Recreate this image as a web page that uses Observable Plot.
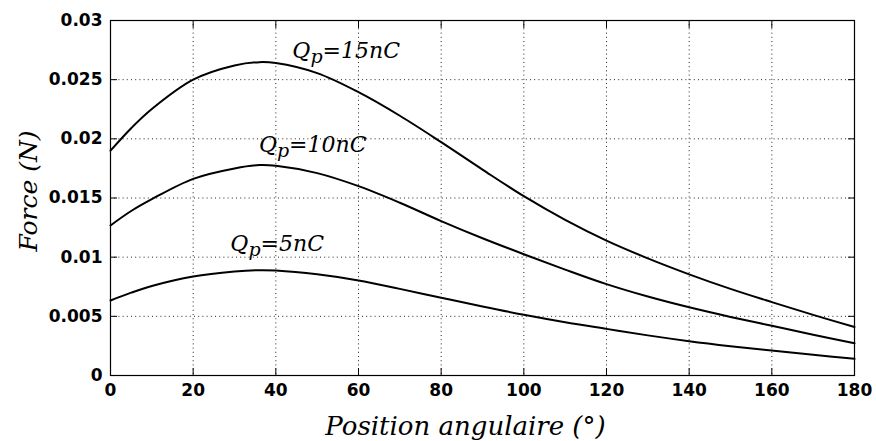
<!DOCTYPE html>
<html><head><meta charset="utf-8">
<script src="https://cdn.jsdelivr.net/npm/d3@7"></script>
<script src="https://cdn.jsdelivr.net/npm/@observablehq/plot@0.6"></script>
<style>body{margin:0;background:#fff}</style>
</head><body><div id="chart"></div>
<script>
// Angular positions (degrees)
const angles   = [0, 5, 10, 20, 30, 36, 40, 50, 60, 70, 80, 90, 100, 110, 120, 130, 140, 150, 160, 170, 180];
// Force (N) for each charge
const force15 = [0.0190, 0.0209, 0.02252, 0.0250, 0.02620, 0.02648, 0.02640, 0.02555, 0.02394, 0.02195, 0.01972, 0.01740, 0.01515, 0.01315, 0.01140, 0.00990, 0.00855, 0.00732, 0.00620, 0.00512, 0.00410];
const force10 = [0.01268, 0.0139, 0.01490, 0.01662, 0.01750, 0.01778, 0.01772, 0.01710, 0.01600, 0.01460, 0.01305, 0.01160, 0.01025, 0.00895, 0.00772, 0.00667, 0.00576, 0.00495, 0.00420, 0.00345, 0.00273];
const force5  = [0.00634, 0.00700, 0.00756, 0.00836, 0.00878, 0.00890, 0.00887, 0.00855, 0.00803, 0.00732, 0.00657, 0.00583, 0.00513, 0.00450, 0.00394, 0.00339, 0.00290, 0.00248, 0.00211, 0.00175, 0.00141];
const seriesNames = ["15nC", "10nC", "5nC"];
// Annotation anchors (data coords)
const labelAngles = [44.0, 35.9, 29.0];
const labelForces = [0.02679, 0.01887, 0.01048];
// Ticks
const xTicks = [0, 20, 40, 60, 80, 100, 120, 140, 160, 180];
const yTicks = [0, 0.005, 0.01, 0.015, 0.02, 0.025, 0.03];
const yTickLabels = ["0", "0.005", "0.01", "0.015", "0.02", "0.025", "0.03"];
const xLabel = "Position angulaire (°)";
const yLabel = "Force (N)";

const allForces = [force15, force10, force5];
const rows = [];
allForces.forEach((arr, s) => arr.forEach((v, i) => rows.push({series: seriesNames[s], angle: angles[i], force: v})));
const labels = seriesNames.map((n, i) => ({name: n, angle: labelAngles[i], force: labelForces[i]}));

const tickFont = {fontFamily: "DejaVu Sans", fontSize: 17, fontWeight: "bold"};
const serif = "DejaVu Serif";

const plot = Plot.plot({
  width: 876, height: 441,
  marginLeft: 110, marginRight: 22, marginTop: 20, marginBottom: 66,
  style: {background: "#fff", color: "#000"},
  x: {domain: [0, 180]},
  y: {domain: [0, 0.03]},
  marks: [
    Plot.gridX(xTicks, {stroke: "#000", strokeOpacity: 0.85, strokeDasharray: "1,3.2"}),
    Plot.gridY(yTicks, {stroke: "#000", strokeOpacity: 0.85, strokeDasharray: "1,3.2"}),
    // inward ticks on all four sides
    Plot.axisX(xTicks, {anchor: "bottom", tickSize: 7, dy: -7, text: null, label: null, stroke: "#000"}),
    Plot.axisX(xTicks, {anchor: "top", tickSize: 7, dy: 7, text: null, label: null, stroke: "#000"}),
    Plot.axisY(yTicks, {anchor: "left", tickSize: 7, dx: 7, text: null, label: null, stroke: "#000"}),
    Plot.axisY(yTicks, {anchor: "right", tickSize: 7, dx: -7, text: null, label: null, stroke: "#000"}),
    // tick labels
    Plot.axisX(xTicks, {anchor: "bottom", tickSize: 0, tickPadding: 8, label: null, fill: "#000", ...tickFont}),
    Plot.axisY(yTicks, {anchor: "left", tickSize: 0, tickPadding: 8, label: null, fill: "#000",
      tickFormat: (d) => yTickLabels[yTicks.indexOf(d)], ...tickFont}),
    Plot.line(rows, {x: "angle", y: "force", z: "series", stroke: "#000", strokeWidth: 2, curve: "catmull-rom"}),
    Plot.frame({stroke: "#000", strokeWidth: 1.2}),
    Plot.text(labels, {x: "angle", y: "force", text: (d) => "Qp=" + d.name, textAnchor: "start", lineAnchor: "bottom",
      fontFamily: serif, fontStyle: "italic", fontSize: 22, fill: "#000"}),
    Plot.text([xLabel], {frameAnchor: "bottom", text: (d) => d, dx: -17, dy: 59, textAnchor: "middle", lineAnchor: "bottom",
      fontFamily: serif, fontStyle: "italic", fontSize: 26, fill: "#000"}),
    Plot.text([yLabel], {frameAnchor: "left", text: (d) => d, dx: -74, dy: -7, rotate: -90, textAnchor: "middle", lineAnchor: "bottom",
      fontFamily: serif, fontStyle: "italic", fontSize: 25, fill: "#000"})
  ]
});
document.getElementById("chart").appendChild(plot);

// Render subscript p in annotations
const ns = "http://www.w3.org/2000/svg";
Array.from(plot.querySelectorAll("text")).filter((t) => t.textContent.startsWith("Qp=")).forEach((t) => {
  const rest = t.textContent.slice(2);
  t.textContent = "";
  const a = document.createElementNS(ns, "tspan"); a.textContent = "Q"; t.appendChild(a);
  const b = document.createElementNS(ns, "tspan"); b.textContent = "p"; b.setAttribute("dy", "5"); b.setAttribute("font-size", "19"); t.appendChild(b);
  const c = document.createElementNS(ns, "tspan"); c.textContent = rest; c.setAttribute("dy", "-5"); t.appendChild(c);
});
</script>
</body></html>
